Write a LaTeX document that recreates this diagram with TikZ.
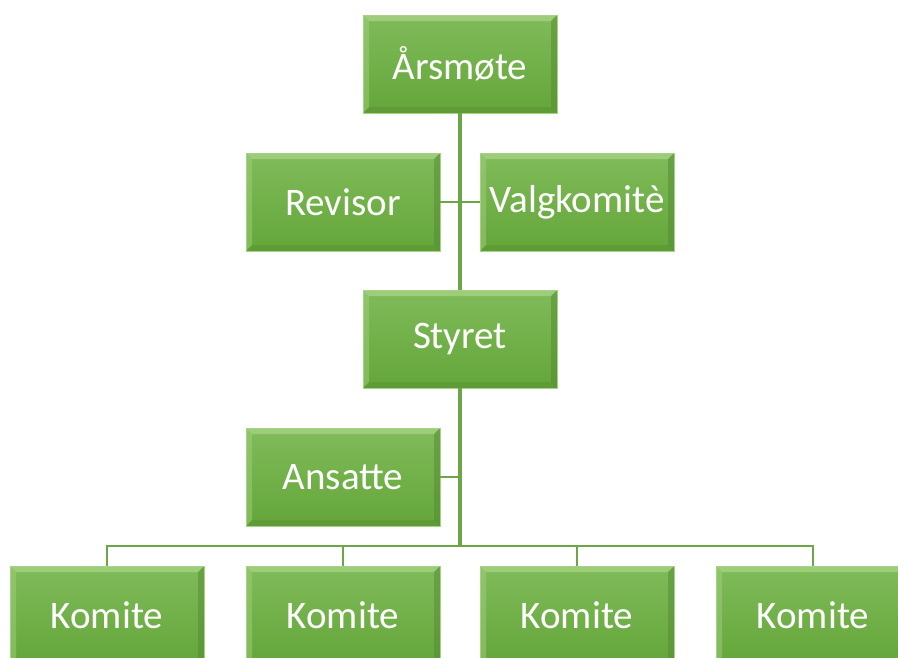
\documentclass[tikz,border=0pt]{standalone}
\usepackage{fontspec}
\setmainfont{Carlito}
\usetikzlibrary{calc,positioning}
\definecolor{OrgGreen}{HTML}{70AD47}
\definecolor{OrgTop}{HTML}{80BB5A}
\definecolor{OrgBottom}{HTML}{64A63A}
\definecolor{OrgLight}{HTML}{A6D283}
\definecolor{OrgDark}{HTML}{548A33}
\definecolor{OrgLine}{HTML}{6CA646}

\begin{document}
\begin{tikzpicture}[%
    x=1pt, y=-1pt,%
    orgbox/.style={%
      rectangle, minimum width=194pt, minimum height=98pt, inner sep=0pt,%
      top color=OrgTop, bottom color=OrgBottom, draw=OrgLight, line width=0.8pt,%
      text=white, font=\fontsize{39}{39}\selectfont,%
      path picture={%
        \fill[OrgLight, opacity=0.8] (path picture bounding box.north west) -- (path picture bounding box.north east)%
          -- ++(-6pt,-6pt) -- ($(path picture bounding box.north west)+(6pt,-6pt)$) -- cycle;%
        \fill[OrgLight, opacity=0.45] (path picture bounding box.north west) -- ($(path picture bounding box.north west)+(6pt,-6pt)$)%
          -- ($(path picture bounding box.south west)+(6pt,6pt)$) -- (path picture bounding box.south west) -- cycle;%
        \fill[OrgDark, opacity=0.5] (path picture bounding box.north east) -- ($(path picture bounding box.north east)+(-6pt,-6pt)$)%
          -- ($(path picture bounding box.south east)+(-6pt,6pt)$) -- (path picture bounding box.south east) -- cycle;%
        \fill[OrgDark, opacity=0.35] (path picture bounding box.south west) -- ($(path picture bounding box.south west)+(6pt,6pt)$)%
          -- ($(path picture bounding box.south east)+(-6pt,6pt)$) -- (path picture bounding box.south east) -- cycle;%
      }%
    },%
    trunk/.style={draw=OrgLine, line width=3.5pt},%
    branch/.style={draw=OrgLine, line width=2pt}%
  ]
  \useasboundingbox (0,0) rectangle (898,657);%

  %
  % Ledelse
  %
  \node[orgbox] (aarsmote) at (460,64) {Årsmøte};%
  \node[orgbox] (revisor) at (343,202) {Revisor};%
  \node[orgbox] (valg) at (577,202) {Valgkomitè};%
  \node[orgbox] (styret) at (460,339) {Styret};%
  \node[orgbox] (ansatte) at (343,477) {Ansatte};%

  % Komiteer
  \foreach \k/\x in {1/107,2/343,3/577,4/813} {%
      \node[orgbox] (komite\k) at (\x,615) {Komite};%
    }%

  %
  % Linjer
  %
  \coordinate (bus) at (460,546);%
  \draw[trunk] (aarsmote.south) -- (styret.north);%
  \draw[branch] (revisor.east) -- (valg.west);%
  \draw[trunk] (styret.south) -- (bus);%
  \draw[branch] (ansatte.east) -- (ansatte.east -| styret.south);%
  \draw[branch] (komite1.north) |- (bus) -| (komite4.north);%
  \draw[branch] (komite2.north) -- (komite2.north |- bus);%
  \draw[branch] (komite3.north) -- (komite3.north |- bus);%
\end{tikzpicture}
\end{document}
